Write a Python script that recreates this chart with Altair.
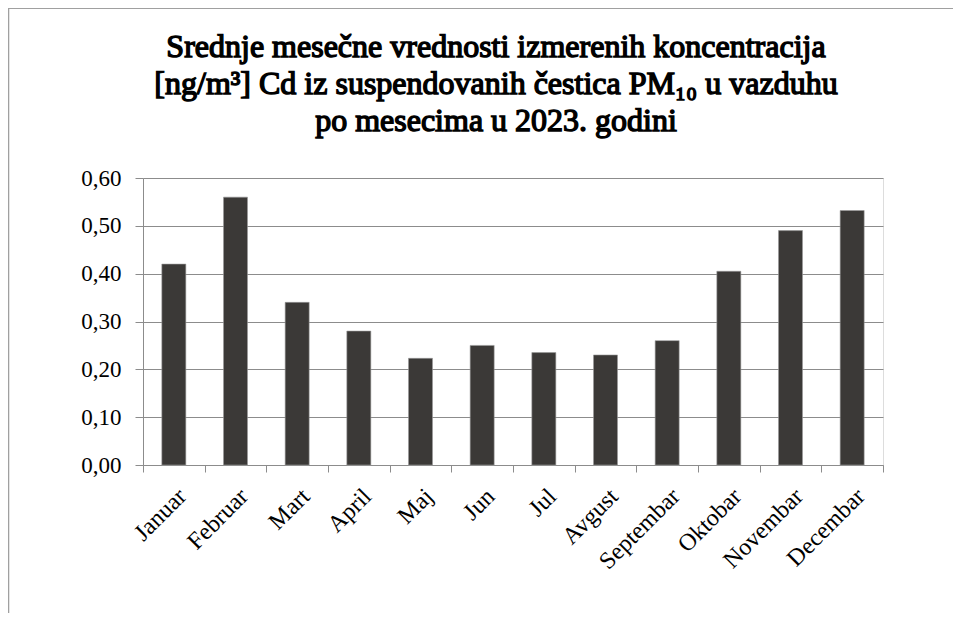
import altair as alt
import pandas as pd

months = ["Januar", "Februar", "Mart", "April", "Maj", "Jun", "Jul", "Avgust",
          "Septembar", "Oktobar", "Novembar", "Decembar"]
values = [0.42, 0.56, 0.34, 0.28, 0.223, 0.25, 0.235, 0.23, 0.26, 0.405, 0.49, 0.532]
title_lines = ["Srednje mesečne vrednosti izmerenih koncentracija",
               "[ng/m³] Cd  iz suspendovanih čestica PM₁₀ u vazduhu",
               "po mesecima u 2023. godini"]
y_ticks = [0.0, 0.1, 0.2, 0.3, 0.4, 0.5, 0.6]

df = pd.DataFrame({"mesec": months, "vrednost": values})
title_df = pd.DataFrame({"red": [0, 1, 2], "naslov": title_lines})

W, H = 740, 287
PAD = {"left": 135, "top": 170, "right": 70, "bottom": 148}
GRAY = "#8c8c8c"
SERIF = "Liberation Serif"

bars = alt.Chart(df).mark_bar(size=24, color="#3b3937", stroke="#9a9a9a", strokeWidth=0.6).encode(
    x=alt.X("mesec:N", sort=months, title=None,
            scale=alt.Scale(paddingInner=0, paddingOuter=0),
            axis=alt.Axis(labelAngle=-45, tickBand="extent", tickSize=7, labelPadding=12,
                          labelFont=SERIF, labelFontSize=24, labelColor="black",
                          domainColor=GRAY, tickColor=GRAY, grid=False)),
    y=alt.Y("vrednost:Q", title=None,
            scale=alt.Scale(domain=[0, 0.6], nice=False),
            axis=alt.Axis(values=y_ticks, tickSize=8, labelPadding=14,
                          labelExpr="replace(format(datum.value, '.2f'), '.', ',')",
                          labelFont=SERIF, labelFontSize=23, labelColor="black",
                          domainColor=GRAY, tickColor=GRAY, gridColor=GRAY, gridOpacity=1)),
)

# title lines drawn as text marks, one per line (baselines 37 px apart)
title = alt.Chart(title_df).mark_text(
    font=SERIF, fontSize=32, align="center", baseline="alphabetic",
    color="black", stroke="black", strokeWidth=1.4,
).encode(
    x=alt.value(353),
    y=alt.Y("red:Q", scale=None, axis=None),
    text="naslov:N",
).transform_calculate(red="datum.red * 37 - 121")

left_border = alt.Chart(title_df).mark_rule(color="#a0a0a0", strokeWidth=1.2, clip=False).encode(
    x=alt.value(-134.5), y=alt.value(-170), y2=alt.value(H + 200)
)
top_border = alt.Chart(title_df).mark_rule(color="#a0a0a0", strokeWidth=1.2, clip=False).encode(
    x=alt.value(-135), x2=alt.value(W + 100), y=alt.value(-169.5)
)

chart = alt.layer(bars, title, left_border, top_border).properties(
    width=W, height=H,
    padding=PAD,
    autosize=alt.AutoSizeParams(type="none"),
).resolve_scale(y="independent").configure_view(stroke=None).configure(background="white")

chart.save("out.html", embed_options={"renderer": "svg", "actions": False})
